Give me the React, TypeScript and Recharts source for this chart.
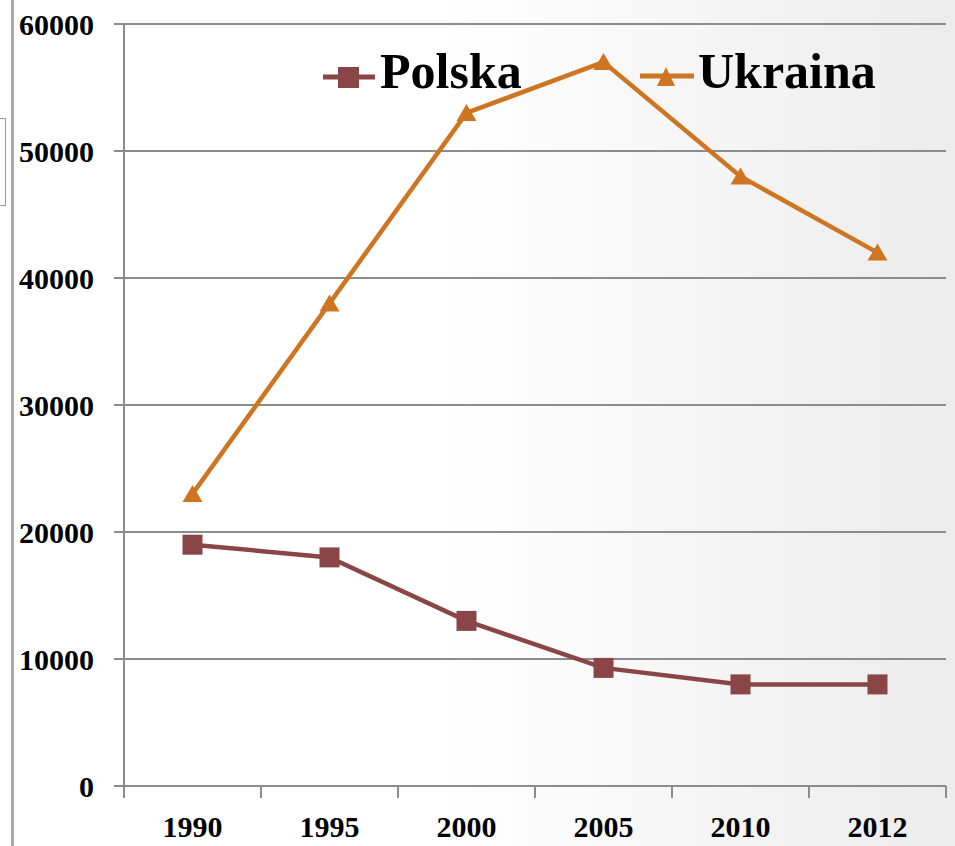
import React from "react";
import {
  CartesianGrid,
  Line,
  LineChart,
  XAxis,
  YAxis,
} from "recharts";

const years = ["1990", "1995", "2000", "2005", "2010", "2012"];
const polska = [19000, 18000, 13000, 9300, 8000, 8000];
const ukraina = [23000, 38000, 53000, 57000, 48000, 42000];
const yTicks = [0, 10000, 20000, 30000, 40000, 50000, 60000];

const POLSKA_COLOR = "#8a4647";
const UKRAINA_COLOR = "#cf7420";
const GRID_COLOR = "#8c8c8c";
const FONT = "'Liberation Serif', 'Times New Roman', serif";

// categories sit between the tick marks, so x is the category index + 0.5
const data = years.map((year, i) => ({
  x: i + 0.5,
  year,
  polska: polska[i],
  ukraina: ukraina[i],
}));

const xTicks: number[] = [];
for (let i = 0; i <= years.length * 2; i++) xTicks.push(i / 2);

const SquareDot = (props: any) => {
  const { cx, cy, index } = props;
  if (cx == null || cy == null) return null;
  return (
    <rect key={`sq-${index}`} x={cx - 10} y={cy - 10} width={20} height={20} fill={POLSKA_COLOR} />
  );
};

const TriangleDot = (props: any) => {
  const { cx, cy, index } = props;
  if (cx == null || cy == null) return null;
  return (
    <polygon
      key={`tr-${index}`}
      points={`${cx},${cy - 9} ${cx + 10},${cy + 8} ${cx - 10},${cy + 8}`}
      fill={UKRAINA_COLOR}
    />
  );
};

const XTick = (props: any) => {
  const { x, y, payload } = props;
  const v = payload.value as number;
  if (Number.isInteger(v)) {
    return <line x1={x} x2={x} y1={y - 12} y2={y} stroke={GRID_COLOR} strokeWidth={2} />;
  }
  const label = years[Math.floor(v)];
  return (
    <text x={x} y={y + 39} textAnchor="middle" fontFamily={FONT} fontWeight="bold" fontSize={30} fill="#000">
      {label}
    </text>
  );
};

const ChartLegend = () => (
  <svg
    width={560}
    height={60}
    style={{ position: "absolute", left: 323, top: 46, overflow: "visible" }}
  >
    <line x1={0} x2={52} y1={31} y2={31} stroke={POLSKA_COLOR} strokeWidth={5} />
    <rect x={15} y={21} width={21} height={21} fill={POLSKA_COLOR} />
    <text x={57} y={42} fontFamily={FONT} fontWeight="bold" fontSize={50} fill="#000">
      Polska
    </text>
    <line x1={317} x2={371} y1={30} y2={30} stroke={UKRAINA_COLOR} strokeWidth={5} />
    <polygon points="343,21 352,40 334,40" fill={UKRAINA_COLOR} />
    <text x={375} y={42} fontFamily={FONT} fontWeight="bold" fontSize={50} fill="#000">
      Ukraina
    </text>
  </svg>
);

export default function App() {
  return (
    <div
      style={{
        position: "absolute",
        left: 0,
        top: 0,
        width: 955,
        height: 846,
        overflow: "hidden",
        background: "linear-gradient(to right, #ffffff 0%, #ffffff 45%, #ececec 100%)",
      }}
    >
      {/* slide frame remnants at the left edge */}
      <div style={{ position: "absolute", left: 11, top: 0, width: 3, height: 846, background: "#a8a8a8" }} />
      <div
        style={{
          position: "absolute",
          left: -4,
          top: 118,
          width: 8,
          height: 86,
          border: "1px solid #9a9a9a",
        }}
      />
      <LineChart
        width={955}
        height={846}
        data={data}
        margin={{ top: 24, right: 9, bottom: 0, left: 0 }}
        style={{ position: "absolute", left: 0, top: 0 }}
      >
        <CartesianGrid horizontal vertical={false} stroke={GRID_COLOR} strokeWidth={2} />
        <XAxis
          dataKey="x"
          type="number"
          domain={[0, years.length]}
          ticks={xTicks}
          interval={0}
          height={60}
          tickSize={12}
          tickMargin={0}
          tickLine={false}
          tick={<XTick />}
          axisLine={{ stroke: GRID_COLOR, strokeWidth: 2 }}
        />
        <YAxis
          domain={[0, 60000]}
          ticks={yTicks}
          interval={0}
          width={124}
          tickSize={10}
          tickMargin={20}
          tickLine={{ stroke: GRID_COLOR, strokeWidth: 2 }}
          axisLine={{ stroke: GRID_COLOR, strokeWidth: 2 }}
          tick={{ fontFamily: FONT, fontWeight: "bold", fontSize: 30, fill: "#000" }}
        />
        <Line
          dataKey="polska"
          name="Polska"
          stroke={POLSKA_COLOR}
          strokeWidth={4.5}
          dot={SquareDot}
          isAnimationActive={false}
        />
        <Line
          dataKey="ukraina"
          name="Ukraina"
          stroke={UKRAINA_COLOR}
          strokeWidth={4.5}
          dot={TriangleDot}
          isAnimationActive={false}
        />
      </LineChart>
      <ChartLegend />
    </div>
  );
}
